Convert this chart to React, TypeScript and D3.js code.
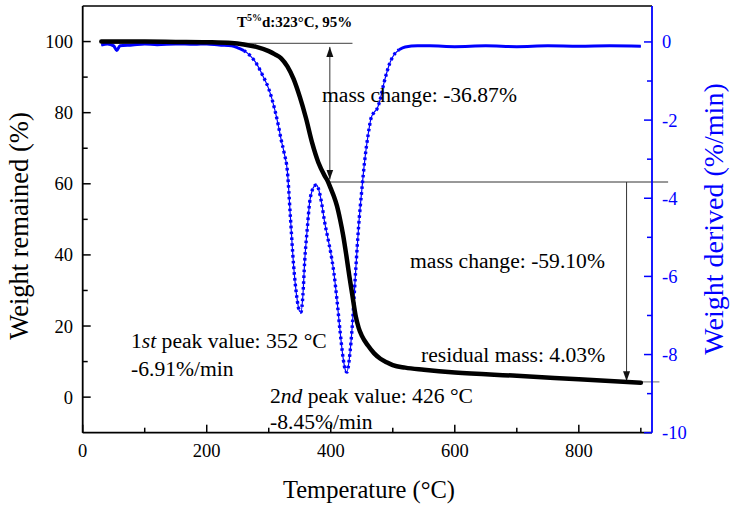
import React from 'react';
import * as d3 from 'd3';

// TGA curve (black): temperature (°C) vs weight remained (%)
const tgaTemp = [30, 60, 100, 150, 200, 240, 260, 280, 300, 310, 320, 330, 340, 350, 360, 370, 380, 390, 395, 400, 405, 410, 415, 420, 425, 430, 435, 440, 445, 450, 460, 470, 480, 490, 500, 520, 550, 600, 700, 800, 900];
const tgaWeight = [100, 100, 100, 99.9, 99.8, 99.6, 99.2, 98.5, 97.3, 96.4, 95.3, 93, 89.5, 84.5, 78.5, 71.5, 66, 62.3, 60.8, 58.7, 56.5, 53.8, 50, 45.5, 40, 34, 28.5, 23, 19.5, 17.3, 14.5, 12.3, 10.8, 9.8, 9.0, 8.3, 7.7, 6.9, 6.0, 5.0, 4.03];

// DTG curve (blue): temperature (°C) vs weight derived (%/min)
const dtgTemp = [30, 40, 50, 55, 60, 80, 100, 120, 150, 180, 200, 220, 240, 250, 260, 270, 280, 290, 300, 305, 310, 315, 320, 325, 330, 335, 340, 345, 350, 352, 355, 358, 362, 366, 370, 374, 377, 380, 385, 390, 395, 400, 405, 410, 415, 420, 424, 426, 430, 435, 440, 445, 450, 455, 460, 465, 470, 475, 480, 485, 490, 495, 500, 510, 520, 540, 560, 600, 650, 700, 750, 800, 850, 900];
const dtgRate = [-0.08, -0.05, -0.1, -0.22, -0.1, -0.08, -0.05, -0.07, -0.05, -0.06, -0.05, -0.08, -0.1, -0.15, -0.22, -0.35, -0.55, -0.85, -1.2, -1.45, -1.75, -2.1, -2.5, -2.85, -3.3, -4.5, -5.7, -6.5, -6.9, -6.91, -6.5, -5.6, -4.8, -4.1, -3.8, -3.68, -3.66, -3.75, -4.1, -4.6, -5.0, -5.4, -5.9, -6.6, -7.4, -8.1, -8.42, -8.45, -8.1, -7.2, -5.9, -4.7, -3.8, -3.0, -2.4, -1.95, -1.8, -1.7, -1.45, -1.1, -0.8, -0.55, -0.38, -0.2, -0.13, -0.1, -0.1, -0.12, -0.1, -0.12, -0.1, -0.11, -0.1, -0.11];

const xMajorTicks = [0, 200, 400, 600, 800];
const xMinorTicks = [100, 300, 500, 700, 900];
const leftMajorTicks = [0, 20, 40, 60, 80, 100];
const leftMinorTicks = [10, 30, 50, 70, 90];
const rightMajorTicks = [0, -2, -4, -6, -8, -10];
const rightMinorTicks = [-1, -3, -5, -7, -9];

const FONT = '"Liberation Serif", "Times New Roman", serif';
const BLUE = '#0000ff';

export default function App() {
  const left = 82.7, right = 652, top = 6, bottom = 432.7;
  const x = d3.scaleLinear().domain([0, 918]).range([left, right]);
  const yL = d3.scaleLinear().domain([-10, 110]).range([bottom, top]);
  const yR = d3.scaleLinear().domain([-10, 0.92]).range([bottom, top]);

  const tga = tgaTemp.map((t, i) => [t, tgaWeight[i]] as [number, number]);
  const dtg = dtgTemp.map((t, i) => [t, dtgRate[i]] as [number, number]);

  const tgaLine = d3.line<[number, number]>().x(d => x(d[0])).y(d => yL(d[1])).curve(d3.curveMonotoneX);
  const dtgLine = d3.line<[number, number]>().x(d => x(d[0])).y(d => yR(d[1])).curve(d3.curveMonotoneX);
  const dtgFlatA = d3.line<[number, number]>().defined(d => d[0] <= 262).x(d => x(d[0])).y(d => yR(d[1])).curve(d3.curveMonotoneX);
  const dtgFlatB = d3.line<[number, number]>().defined(d => d[0] >= 505).x(d => x(d[0])).y(d => yR(d[1])).curve(d3.curveMonotoneX);
  const dtgMid = d3.line<[number, number]>().defined(d => d[0] >= 255 && d[0] <= 510).x(d => x(d[0])).y(d => yR(d[1])).curve(d3.curveMonotoneX);

  const lineColor = '#333';
  const annoSize = 21.6;

  return (
    <svg width={730} height={512} style={{ position: 'absolute', left: 0, top: 0, background: '#fff' }} fontFamily={FONT}>
      <defs>
        <marker id="ah" viewBox="0 0 10 10" refX="10" refY="5" markerWidth="10" markerHeight="10" markerUnits="userSpaceOnUse" orient="auto-start-reverse">
          <path d="M0,1.5 L10,5 L0,8.5 Z" fill="#111" />
        </marker>
      </defs>
      <rect x={0} y={0} width={730} height={512} fill="#fff" />

      {/* annotation lines */}
      <line x1={x(30)} x2={x(435)} y1={yL(99.5)} y2={yL(99.5)} stroke="#666" strokeWidth={1.2} />
      <line x1={x(398.5)} x2={x(944)} y1={yL(60.5)} y2={yL(60.5)} stroke={lineColor} strokeWidth={1} />
      <line x1={x(862)} x2={x(930)} y1={yL(4.3)} y2={yL(4.3)} stroke="#888" strokeWidth={1.2} />
      <line x1={x(398.5)} x2={x(398.5)} y1={yL(98.5)} y2={yL(61.2)} stroke={lineColor} strokeWidth={1} markerStart="url(#ah)" markerEnd="url(#ah)" />
      <line x1={x(877)} x2={x(877)} y1={yL(60.5)} y2={yL(4.5)} stroke={lineColor} strokeWidth={1} markerEnd="url(#ah)" />

      {/* DTG curve */}
      <path d={dtgLine(dtg) || ''} fill="none" stroke={BLUE} strokeWidth={1.2} />
      <path d={dtgFlatA(dtg) || ''} fill="none" stroke={BLUE} strokeWidth={3} />
      <path d={dtgFlatB(dtg) || ''} fill="none" stroke={BLUE} strokeWidth={3} />
      <path d={dtgMid(dtg) || ''} fill="none" stroke={BLUE} strokeWidth={3.4} strokeDasharray="2.6 3.2" />

      {/* TGA curve */}
      <path d={tgaLine(tga) || ''} fill="none" stroke="#000" strokeWidth={4.5} strokeLinecap="round" />

      {/* frame */}
      <line x1={left} x2={right} y1={top} y2={top} stroke="#000" strokeWidth={1.5} />
      <line x1={left} x2={left} y1={top} y2={bottom} stroke="#000" strokeWidth={1.8} />
      <line x1={left} x2={right} y1={bottom} y2={bottom} stroke="#000" strokeWidth={1.8} />
      <line x1={right} x2={right} y1={top} y2={bottom} stroke={BLUE} strokeWidth={1.8} />

      {/* bottom axis */}
      {xMajorTicks.map(t => (
        <g key={'xm' + t}>
          <line x1={x(t)} x2={x(t)} y1={bottom} y2={bottom - 8} stroke="#000" strokeWidth={1.5} />
          <text x={x(t)} y={457} textAnchor="middle" fontSize={18.5} fill="#000">{t}</text>
        </g>
      ))}
      {xMinorTicks.map(t => (
        <line key={'xn' + t} x1={x(t)} x2={x(t)} y1={bottom} y2={bottom - 5} stroke="#000" strokeWidth={1.5} />
      ))}

      {/* left axis */}
      {leftMajorTicks.map(t => (
        <g key={'lm' + t}>
          <line x1={left} x2={left + 8} y1={yL(t)} y2={yL(t)} stroke="#000" strokeWidth={1.5} />
          <text x={73} y={yL(t)} dy="0.35em" textAnchor="end" fontSize={18.5} fill="#000">{t}</text>
        </g>
      ))}
      {leftMinorTicks.map(t => (
        <line key={'ln' + t} x1={left} x2={left + 5} y1={yL(t)} y2={yL(t)} stroke="#000" strokeWidth={1.5} />
      ))}

      {/* right axis */}
      {rightMajorTicks.map(t => (
        <g key={'rm' + t}>
          <line x1={right} x2={right - 8} y1={yR(t)} y2={yR(t)} stroke={BLUE} strokeWidth={1.5} />
          <text x={662} y={yR(t)} dy="0.35em" textAnchor="start" fontSize={18.5} fill={BLUE}>{t}</text>
        </g>
      ))}
      {rightMinorTicks.map(t => (
        <line key={'rn' + t} x1={right} x2={right - 5} y1={yR(t)} y2={yR(t)} stroke={BLUE} strokeWidth={1.5} />
      ))}

      {/* axis titles */}
      <text x={369} y={498} textAnchor="middle" fontSize={24.5} fill="#000">Temperature (°C)</text>
      <text transform="translate(28,226) rotate(-90)" textAnchor="middle" fontSize={26.5} fill="#000">Weight remained (%)</text>
      <text transform="translate(723,219) rotate(-90)" textAnchor="middle" fontSize={28} fill={BLUE}>Weight derived (%/min)</text>

      {/* annotations */}
      <text x={237} y={27} fontSize={15} fontWeight="bold" fill="#000">
        <tspan>T</tspan>
        <tspan dy={-6} fontSize={10}>5%</tspan>
        <tspan dy={6}>d:323°C, 95%</tspan>
      </text>
      <text x={322} y={102} fontSize={annoSize} fill="#000">mass change: -36.87%</text>
      <text x={410} y={268} fontSize={annoSize} fill="#000">mass change: -59.10%</text>
      <text x={421} y={362} fontSize={annoSize} fill="#000">residual mass: 4.03%</text>
      <text x={131} y={348} fontSize={annoSize} fill="#000">
        <tspan>1</tspan><tspan fontStyle="italic">st</tspan><tspan> peak value: 352 °C</tspan>
      </text>
      <text x={131} y={376} fontSize={annoSize} fill="#000">-6.91%/min</text>
      <text x={270} y={403} fontSize={annoSize} fill="#000">
        <tspan>2</tspan><tspan fontStyle="italic">nd</tspan><tspan> peak value: 426 °C</tspan>
      </text>
      <text x={270} y={429} fontSize={annoSize} fill="#000">-8.45%/min</text>
    </svg>
  );
}
